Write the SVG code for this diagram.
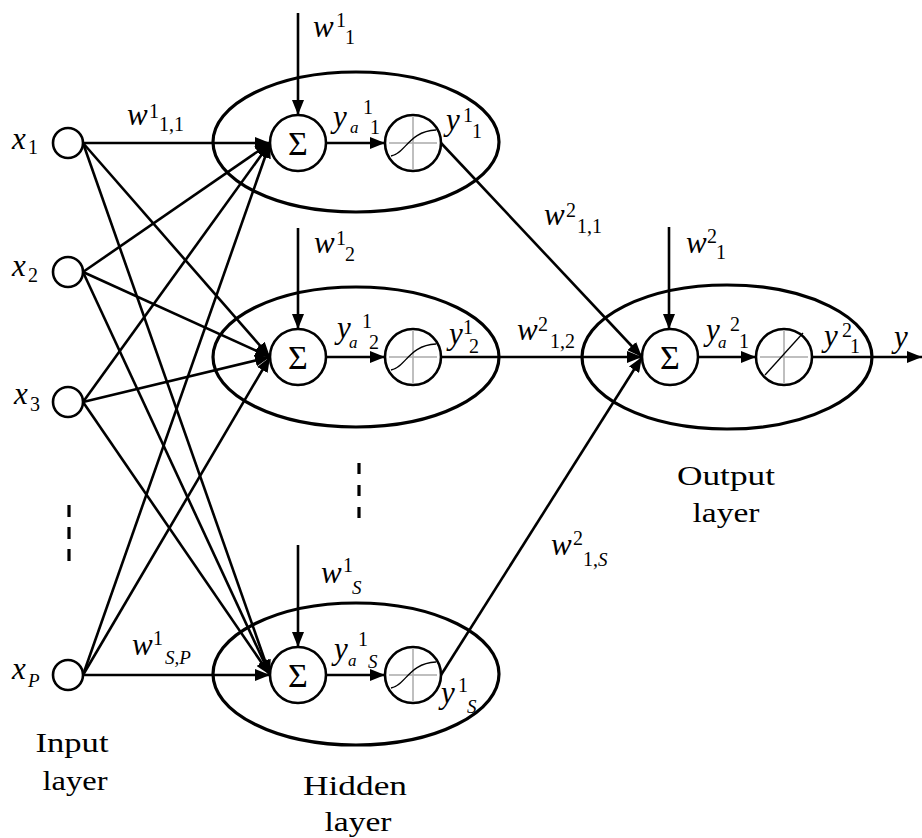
<svg xmlns="http://www.w3.org/2000/svg" width="922" height="838" viewBox="0 0 922 838">
<style>
.ln{stroke:#000;stroke-width:2.6;fill:none}
.el{stroke:#000;stroke-width:3.2;fill:none}
.nd{stroke:#000;stroke-width:2.6;fill:#fff}
.gr{stroke:#aaa;stroke-width:1.5}
.cv{stroke:#000;stroke-width:1.3;fill:none}
.ds{stroke:#000;stroke-width:3.2}
text{font-family:"Liberation Serif","Times New Roman",serif;fill:#000}
.m{font-style:italic;font-size:31px}
.s{font-style:normal;font-size:20px}
.si{font-style:italic;font-size:19px}
.a{font-style:italic;font-size:17px}
.sg{font-size:34px;text-anchor:middle}
.lb{font-size:27px;text-anchor:middle}
</style>
<defs>
<marker id="ah" markerUnits="userSpaceOnUse" markerWidth="16" markerHeight="12" refX="15" refY="6" orient="auto">
<path d="M0,0 L15,6 L0,12 z" fill="#000"/>
</marker>
</defs>

<g id="connectors">
<line class="ln" x1="83" y1="143" x2="270" y2="143" marker-end="url(#ah)"/>
<line class="ln" x1="83" y1="143" x2="270" y2="357" marker-end="url(#ah)"/>
<line class="ln" x1="83" y1="143" x2="270" y2="675" marker-end="url(#ah)"/>
<line class="ln" x1="83" y1="272" x2="270" y2="143" marker-end="url(#ah)"/>
<line class="ln" x1="83" y1="272" x2="270" y2="357" marker-end="url(#ah)"/>
<line class="ln" x1="83" y1="272" x2="270" y2="675" marker-end="url(#ah)"/>
<line class="ln" x1="83" y1="402" x2="270" y2="143" marker-end="url(#ah)"/>
<line class="ln" x1="83" y1="402" x2="270" y2="357" marker-end="url(#ah)"/>
<line class="ln" x1="83" y1="402" x2="270" y2="675" marker-end="url(#ah)"/>
<line class="ln" x1="83" y1="675" x2="270" y2="143" marker-end="url(#ah)"/>
<line class="ln" x1="83" y1="675" x2="270" y2="357" marker-end="url(#ah)"/>
<line class="ln" x1="83" y1="675" x2="270" y2="675" marker-end="url(#ah)"/>
<line class="ln" x1="298" y1="13" x2="298" y2="115" marker-end="url(#ah)"/>
<line class="ln" x1="298" y1="228" x2="298" y2="329" marker-end="url(#ah)"/>
<line class="ln" x1="298" y1="545" x2="298" y2="647" marker-end="url(#ah)"/>
<line class="ln" x1="669" y1="227" x2="669" y2="329" marker-end="url(#ah)"/>
<line class="ln" x1="326" y1="143" x2="385" y2="143" marker-end="url(#ah)"/>
<line class="ln" x1="326" y1="357" x2="385" y2="357" marker-end="url(#ah)"/>
<line class="ln" x1="326" y1="675" x2="385" y2="675" marker-end="url(#ah)"/>
<line class="ln" x1="698" y1="357" x2="756" y2="357" marker-end="url(#ah)"/>
<line class="ln" x1="441" y1="143" x2="642" y2="357" marker-end="url(#ah)"/>
<line class="ln" x1="441" y1="357" x2="642" y2="357" marker-end="url(#ah)"/>
<line class="ln" x1="441" y1="675" x2="642" y2="357" marker-end="url(#ah)"/>
<line class="ln" x1="812" y1="357" x2="922" y2="357" marker-end="url(#ah)"/>
</g>

<g id="dashes">
<line class="ds" x1="69" y1="505" x2="69" y2="561" stroke-dasharray="12 10"/>
<line class="ds" x1="359" y1="463" x2="359" y2="518" stroke-dasharray="11 11"/>
</g>

<g id="hidden-ellipses">
<ellipse class="el" cx="356" cy="142" rx="143" ry="70"/>
<ellipse class="el" cx="356" cy="357" rx="143" ry="70"/>
<ellipse class="el" cx="356" cy="674" rx="143" ry="71"/>
</g>
<g id="output-ellipse">
<ellipse class="el" cx="727" cy="357" rx="145" ry="72"/>
</g>

<g id="input-x1"><circle class="nd" cx="68" cy="143" r="15"/>
<text><tspan class="m" x="12" y="149">x</tspan><tspan class="s" x="28" y="154">1</tspan></text></g>
<g id="input-x2"><circle class="nd" cx="68" cy="272" r="15"/>
<text><tspan class="m" x="12" y="276">x</tspan><tspan class="s" x="28" y="282">2</tspan></text></g>
<g id="input-x3"><circle class="nd" cx="68" cy="402" r="15"/>
<text><tspan class="m" x="14" y="404">x</tspan><tspan class="s" x="30" y="411">3</tspan></text></g>
<g id="input-xP"><circle class="nd" cx="68" cy="675" r="15"/>
<text><tspan class="m" x="12" y="679">x</tspan><tspan class="si" x="28" y="687">P</tspan></text></g>

<g id="hidden1-sum"><circle class="nd" cx="298" cy="143" r="28"/><text class="sg" x="298" y="155">Σ</text></g>
<g id="hidden2-sum"><circle class="nd" cx="298" cy="357" r="28"/><text class="sg" x="298" y="369">Σ</text></g>
<g id="hiddenS-sum"><circle class="nd" cx="298" cy="675" r="28"/><text class="sg" x="298" y="687">Σ</text></g>
<g id="output-sum"><circle class="nd" cx="670" cy="357" r="28"/><text class="sg" x="670" y="369">Σ</text></g>

<g id="hidden1-act"><circle class="nd" cx="413" cy="143" r="28"/>
<line class="gr" x1="389" y1="143" x2="437" y2="143"/><line class="gr" x1="413" y1="117" x2="413" y2="169"/>
<path class="cv" d="M391,156 C405,154 409,131 436,130"/></g>
<g id="hidden2-act"><circle class="nd" cx="413" cy="357" r="28"/>
<line class="gr" x1="389" y1="357" x2="437" y2="357"/><line class="gr" x1="413" y1="331" x2="413" y2="383"/>
<path class="cv" d="M391,370 C405,368 409,345 436,344"/></g>
<g id="hiddenS-act"><circle class="nd" cx="413" cy="675" r="28"/>
<line class="gr" x1="389" y1="675" x2="437" y2="675"/><line class="gr" x1="413" y1="649" x2="413" y2="701"/>
<path class="cv" d="M391,688 C405,686 409,663 436,662"/></g>
<g id="output-act"><circle class="nd" cx="784" cy="357" r="28"/>
<line class="gr" x1="760" y1="357" x2="808" y2="357"/><line class="gr" x1="784" y1="331" x2="784" y2="383"/>
<line stroke="#000" stroke-width="1.3" x1="765" y1="375" x2="803" y2="333"/></g>

<g id="labels">
<text><tspan class="m" x="313" y="37">w</tspan><tspan class="s" x="336" y="27">1</tspan><tspan class="s" x="345" y="44">1</tspan></text>
<text><tspan class="m" x="127" y="125">w</tspan><tspan class="s" x="149" y="118">1</tspan><tspan class="s" x="159" y="131">1,1</tspan></text>
<text><tspan class="m" x="333" y="127">y</tspan><tspan class="a" x="350" y="133">a</tspan><tspan class="s" x="363" y="114">1</tspan><tspan class="s" x="370" y="134">1</tspan></text>
<text><tspan class="m" x="446" y="130">y</tspan><tspan class="s" x="463" y="122">1</tspan><tspan class="s" x="472" y="138">1</tspan></text>
<text><tspan class="m" x="544" y="225">w</tspan><tspan class="s" x="566" y="217">2</tspan><tspan class="s" x="577" y="233">1,1</tspan></text>

<text><tspan class="m" x="314" y="253">w</tspan><tspan class="s" x="336" y="245">1</tspan><tspan class="s" x="345" y="261">2</tspan></text>
<text><tspan class="m" x="337" y="338">y</tspan><tspan class="a" x="349" y="348">a</tspan><tspan class="s" x="362" y="328">1</tspan><tspan class="s" x="369" y="349">2</tspan></text>
<text><tspan class="m" x="449" y="344">y</tspan><tspan class="s" x="463" y="334">1</tspan><tspan class="s" x="469" y="353">2</tspan></text>
<text><tspan class="m" x="517" y="340">w</tspan><tspan class="s" x="538" y="331">2</tspan><tspan class="s" x="550" y="348">1,2</tspan></text>

<text><tspan class="m" x="686" y="253">w</tspan><tspan class="s" x="707" y="243">2</tspan><tspan class="s" x="716" y="259">1</tspan></text>
<text><tspan class="m" x="706" y="340">y</tspan><tspan class="a" x="718" y="348">a</tspan><tspan class="s" x="730" y="331">2</tspan><tspan class="s" x="739" y="348">1</tspan></text>
<text><tspan class="m" x="824" y="346">y</tspan><tspan class="s" x="842" y="337">2</tspan><tspan class="s" x="850" y="353">1</tspan></text>
<text class="m" x="894" y="347">y</text>

<text><tspan class="m" x="551" y="555">w</tspan><tspan class="s" x="573" y="545">2</tspan><tspan class="s" x="583" y="566">1,</tspan><tspan class="si" y="566">S</tspan></text>
<text><tspan class="m" x="321" y="583">w</tspan><tspan class="s" x="343" y="572">1</tspan><tspan class="si" x="352" y="594">S</tspan></text>
<text><tspan class="m" x="334" y="659">y</tspan><tspan class="a" x="348" y="666">a</tspan><tspan class="s" x="358" y="646">1</tspan><tspan class="si" x="368" y="668">S</tspan></text>
<text><tspan class="m" x="441" y="703">y</tspan><tspan class="s" x="458" y="692">1</tspan><tspan class="si" x="467" y="713">S</tspan></text>
<text><tspan class="m" x="132" y="655">w</tspan><tspan class="s" x="153" y="645">1</tspan><tspan class="si" x="165" y="664">S,P</tspan></text>

<text class="lb" x="72" y="752" textLength="73" lengthAdjust="spacingAndGlyphs">Input</text>
<text class="lb" x="75" y="790" textLength="65" lengthAdjust="spacingAndGlyphs">layer</text>
<text class="lb" x="355" y="795" textLength="104" lengthAdjust="spacingAndGlyphs">Hidden</text>
<text class="lb" x="358" y="831" textLength="67" lengthAdjust="spacingAndGlyphs">layer</text>
<text class="lb" x="726" y="485" textLength="98" lengthAdjust="spacingAndGlyphs">Output</text>
<text class="lb" x="726" y="522" textLength="67" lengthAdjust="spacingAndGlyphs">layer</text>
</g>
</svg>
